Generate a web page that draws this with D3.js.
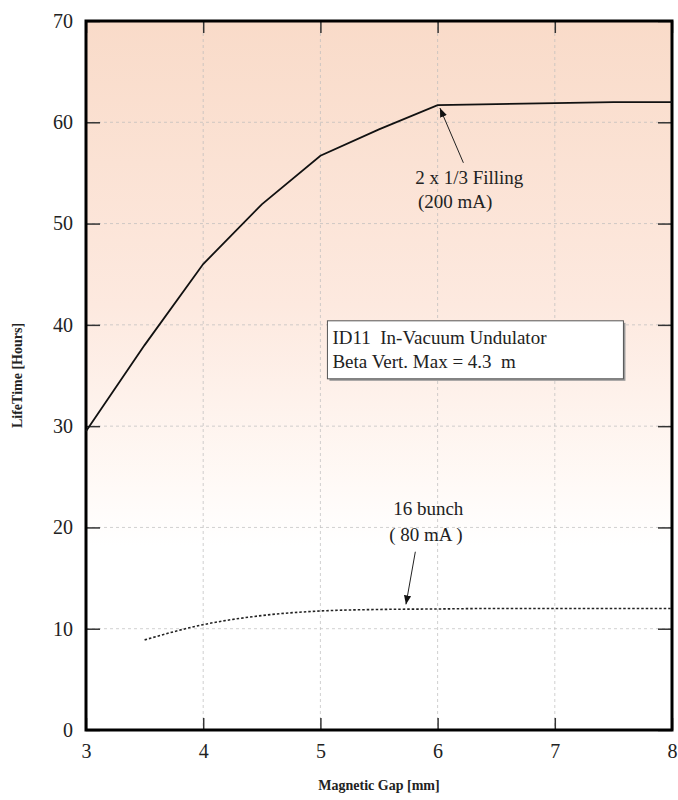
<!DOCTYPE html>
<html>
<head>
<meta charset="utf-8">
<script src="https://cdn.jsdelivr.net/npm/d3@7"></script>
<style>
  body { margin: 0; background: #fff; }
  svg text { font-family: "Liberation Serif", "Times New Roman", Times, "DejaVu Serif", serif; fill: #222; }
</style>
</head>
<body>
<svg id="chart" width="678" height="800"></svg>
<script>
// data
var gap = [3, 3.5, 4, 4.5, 5, 5.5, 6, 6.5, 7, 7.5, 8];
var filling = [29.5, 38, 46, 51.9, 56.7, 59.3, 61.7, 61.8, 61.9, 62, 62];
var gap16 = [3.5, 4, 4.5, 5, 5.5, 6, 6.5, 7, 7.5, 8];
var bunch16 = [8.9, 10.4, 11.3, 11.75, 11.9, 11.95, 12, 12, 12, 12];
var xTicks = [3, 4, 5, 6, 7, 8];
var yTicks = [0, 10, 20, 30, 40, 50, 60, 70];

var serif = "'Liberation Serif', 'Times New Roman', Times, 'DejaVu Serif', serif";

var margin = {left: 86, right: 6, top: 21, bottom: 70};
var W = 678, H = 800;
var w = W - margin.left - margin.right;
var h = H - margin.top - margin.bottom;

var svg = d3.select("#chart");

var defs = svg.append("defs");
var grad = defs.append("linearGradient")
    .attr("id", "bg").attr("x1", 0).attr("y1", 0).attr("x2", 0).attr("y2", 1);
grad.append("stop").attr("offset", "0%").attr("stop-color", "#f9dbc9");
grad.append("stop").attr("offset", "40%").attr("stop-color", "#fde9df");
grad.append("stop").attr("offset", "66%").attr("stop-color", "#fffaf7");
grad.append("stop").attr("offset", "74%").attr("stop-color", "#ffffff");
grad.append("stop").attr("offset", "100%").attr("stop-color", "#ffffff");

defs.append("marker")
    .attr("id", "arrow").attr("viewBox", "0 0 10 10")
    .attr("refX", 10).attr("refY", 5)
    .attr("markerWidth", 9).attr("markerHeight", 9)
    .attr("markerUnits", "userSpaceOnUse")
    .attr("orient", "auto")
  .append("path").attr("d", "M0,1L10,5L0,9Z").attr("fill", "#111");

var g = svg.append("g")
    .attr("transform", "translate(" + margin.left + "," + margin.top + ")");

var x = d3.scaleLinear().domain([3, 8]).range([0, w]);
var y = d3.scaleLinear().domain([0, 70]).range([h, 0]);

g.append("rect").attr("width", w).attr("height", h).attr("fill", "url(#bg)");

// grid
g.selectAll(".vgrid").data(xTicks.slice(1, -1)).enter().append("line")
    .attr("x1", d => x(d)).attr("x2", d => x(d))
    .attr("y1", 0).attr("y2", h)
    .attr("stroke", "#bbb").attr("stroke-width", 0.7)
    .attr("stroke-dasharray", "3,3");
g.selectAll(".hgrid").data(yTicks.slice(1, -1)).enter().append("line")
    .attr("x1", 0).attr("x2", w)
    .attr("y1", d => y(d)).attr("y2", d => y(d))
    .attr("stroke", "#bbb").attr("stroke-width", 0.7)
    .attr("stroke-dasharray", "3,3");

// axes with inward ticks
var xAxis = g.append("g").attr("transform", "translate(0," + h + ")")
    .call(d3.axisBottom(x).tickValues(xTicks).tickSize(-12).tickPadding(14).tickFormat(d3.format("d")));
var xTop = g.append("g")
    .call(d3.axisTop(x).tickValues(xTicks).tickSize(-12).tickFormat(""));
var yAxis = g.append("g")
    .call(d3.axisLeft(y).tickValues(yTicks).tickSize(-14).tickPadding(13).tickFormat(d3.format("d")));
var yRight = g.append("g").attr("transform", "translate(" + w + ",0)")
    .call(d3.axisRight(y).tickValues(yTicks).tickSize(-14).tickFormat(""));

[xAxis, xTop, yAxis, yRight].forEach(function(a) {
  a.attr("font-family", serif);
  a.select(".domain").remove();
  a.selectAll(".tick line").attr("stroke", "#333").attr("stroke-width", 1.5);
  a.selectAll("text").style("font-size", "20px").attr("fill", "#333")
    .style("font-family", serif);
});

// frame
g.append("rect").attr("width", w).attr("height", h)
    .attr("fill", "none").attr("stroke", "#000").attr("stroke-width", 3);

// curves
var line = d3.line().x(d => x(d[0])).y(d => y(d[1]));

g.append("path")
    .datum(gap.map((d, i) => [d, filling[i]]))
    .attr("d", line).attr("fill", "none")
    .attr("stroke", "#111").attr("stroke-width", 1.8);

g.append("path")
    .datum(gap16.map((d, i) => [d, bunch16[i]]))
    .attr("d", line.curve(d3.curveMonotoneX)).attr("fill", "none")
    .attr("stroke", "#222").attr("stroke-width", 1.6)
    .attr("stroke-dasharray", "2.5,2");

// annotations
function label(tx, ty, s) {
  return g.append("text").attr("x", tx).attr("y", ty)
    .attr("text-anchor", "middle").style("font-size", "19px")
    .style("font-family", serif).attr("xml:space", "preserve")
    .text(s);
}

g.append("line")
    .attr("x1", x(6.22)).attr("y1", y(56.0))
    .attr("x2", x(6.02)).attr("y2", y(61.4))
    .attr("stroke", "#222").attr("stroke-width", 1)
    .attr("marker-end", "url(#arrow)");
label(x(6.27), y(53.9), "2 x 1/3 Filling");
label(x(6.15), y(51.5), "(200 mA)");

g.append("line")
    .attr("x1", x(5.81)).attr("y1", y(17.6))
    .attr("x2", x(5.73)).attr("y2", y(12.4))
    .attr("stroke", "#222").attr("stroke-width", 1)
    .attr("marker-end", "url(#arrow)");
label(x(5.92), y(21.2), "16 bunch");
label(x(5.9), y(18.7), "( 80 mA )");

// info box
var bx = x(5.06), by = y(40.4);
g.append("rect").attr("x", bx + 2).attr("y", by + 2)
    .attr("width", 296).attr("height", 58).attr("fill", "#999");
g.append("rect").attr("x", bx).attr("y", by)
    .attr("width", 296).attr("height", 58)
    .attr("fill", "#fff").attr("stroke", "#555").attr("stroke-width", 1);
g.append("text").attr("x", bx + 5).attr("y", by + 23)
    .style("font-size", "19px").style("font-family", serif).attr("xml:space", "preserve")
    .text("ID11  In-Vacuum Undulator");
g.append("text").attr("x", bx + 5).attr("y", by + 47)
    .style("font-size", "19px").style("font-family", serif).attr("xml:space", "preserve")
    .text("Beta Vert. Max = 4.3  m");

// axis titles
svg.append("text")
    .attr("x", margin.left + w / 2).attr("y", 790)
    .attr("text-anchor", "middle")
    .style("font-size", "14px").style("font-weight", "bold").style("font-family", serif)
    .text("Magnetic Gap [mm]");
svg.append("text")
    .attr("transform", "translate(22," + (margin.top + h / 2) + ") rotate(-90)")
    .attr("text-anchor", "middle")
    .style("font-size", "14px").style("font-weight", "bold").style("font-family", serif)
    .text("LifeTime [Hours]");
</script>
</body>
</html>
